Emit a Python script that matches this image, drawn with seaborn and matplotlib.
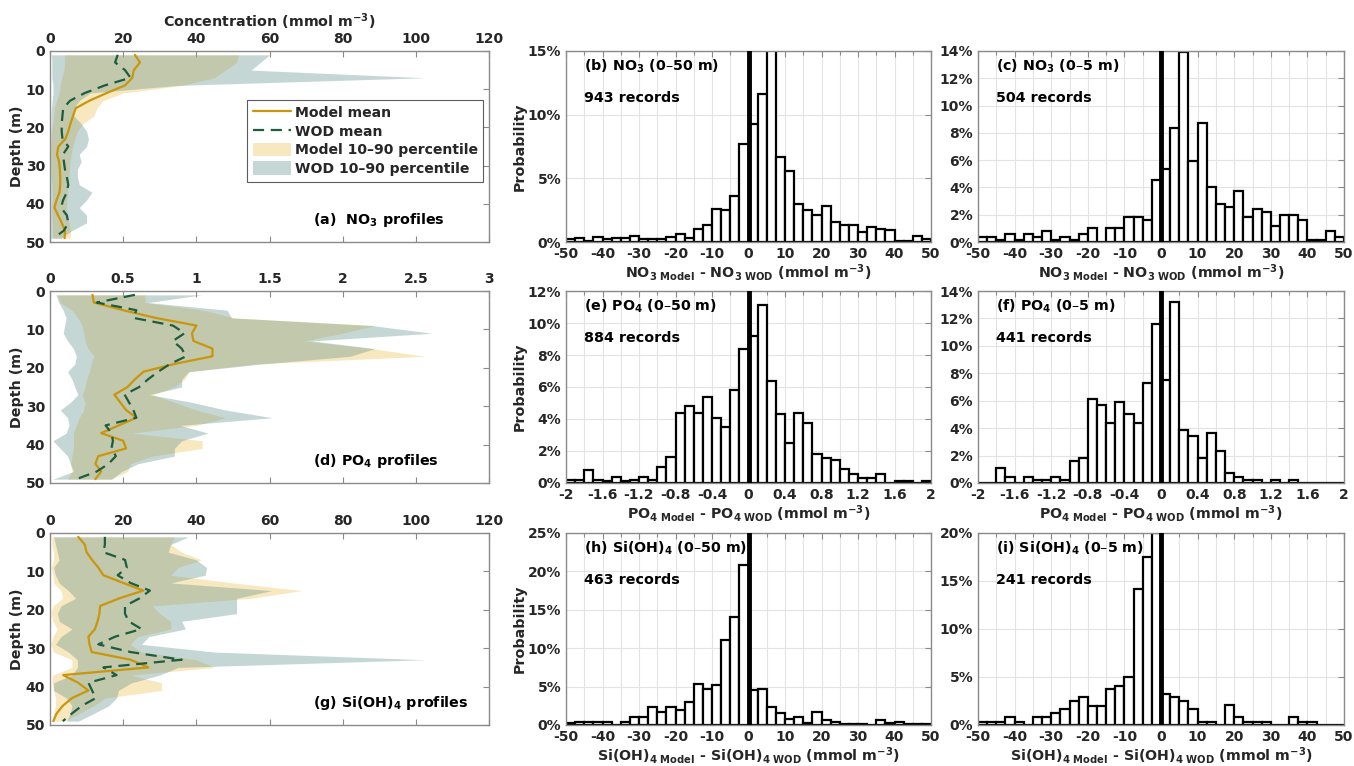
import numpy as np
import pandas as pd
import matplotlib
matplotlib.use("Agg")
import matplotlib.pyplot as plt
from matplotlib.ticker import MultipleLocator, FuncFormatter
from matplotlib.lines import Line2D
from matplotlib.patches import Patch
import seaborn as sns

sns.set_theme(style="white")
plt.rcParams['font.family'] = ['DejaVu Sans']
plt.rcParams['font.weight'] = 'bold'
plt.rcParams['axes.labelweight'] = 'bold'
plt.rcParams['mathtext.fontset'] = 'dejavusans'
plt.rcParams['mathtext.default'] = 'bf'

# ---- profile data (depth in m) ----
depth = [1, 3, 5, 7, 9, 11, 13, 15, 17, 19, 21, 23, 25, 27, 29, 31, 33, 35, 37, 39, 41, 43, 45, 47, 49]

no3_model_mean = [23.2, 24.6, 22.9, 22.5, 20.5, 15.5, 10.8, 7.0, 6.3, 5.6, 5.0, 4.2, 2.3, 1.9, 2.5, 2.7, 2.8, 2.8, 2.6, 1.8, 1.2, 2.2, 3.2, 4.1, 4.0]
no3_wod_mean = [18.5, 17.8, 20.5, 22.0, 15.0, 9.5, 5.5, 3.6, 3.4, 3.2, 3.2, 3.4, 5.0, 3.6, 3.8, 4.1, 4.6, 5.0, 4.6, 3.6, 3.0, 4.6, 5.0, 3.8, 1.0]
no3_model_p10 = [4.0, 4.0, 3.8, 3.2, 2.8, 2.5, 1.8, 1.2, 1.0, 0.8, 0.5, 0.3, 0.2, 0.2, 0.2, 0.2, 0.3, 0.5, 0.6, 0.6, 0.5, 0.5, 0.6, 0.7, 0.8]
no3_model_p90 = [51.5, 51.0, 48.0, 45.0, 36.0, 20.0, 14.5, 12.8, 12.0, 9.0, 7.5, 6.8, 6.2, 5.8, 5.5, 5.3, 5.2, 5.0, 4.8, 4.6, 4.5, 4.8, 5.2, 5.6, 5.5]
no3_wod_p10 = [0.4, 0.5, 0.5, 0.5, 0.8, 0.8, 0.6, 0.4, 0.3, 0.3, 0.2, 0.2, 0.2, 0.2, 0.2, 0.2, 0.2, 0.2, 0.2, 0.2, 0.2, 0.2, 0.2, 0.2, 0.2]
no3_wod_p90 = [60.0, 57.5, 55.0, 102.5, 35.0, 11.0, 8.0, 6.5, 6.5, 8.5, 10.0, 10.5, 10.0, 8.0, 8.5, 7.5, 7.5, 8.0, 11.5, 10.0, 8.0, 10.0, 10.0, 6.0, 3.0]

po4_model_mean = [0.29, 0.30, 0.50, 0.72, 1.00, 0.97, 0.98, 1.11, 1.11, 0.85, 0.64, 0.58, 0.53, 0.44, 0.48, 0.52, 0.59, 0.47, 0.35, 0.50, 0.52, 0.33, 0.31, 0.35, 0.31]
po4_wod_mean = [0.58, 0.32, 0.59, 0.57, 0.84, 0.92, 0.84, 0.90, 0.93, 0.82, 0.74, 0.67, 0.61, 0.51, 0.54, 0.57, 0.59, 0.38, 0.42, 0.43, 0.42, 0.45, 0.40, 0.32, 0.18]
po4_model_p10 = [0.05, 0.07, 0.15, 0.19, 0.22, 0.23, 0.24, 0.26, 0.30, 0.28, 0.27, 0.25, 0.24, 0.22, 0.24, 0.23, 0.20, 0.18, 0.16, 0.16, 0.16, 0.15, 0.14, 0.15, 0.12]
po4_model_p90 = [0.65, 0.65, 1.05, 1.26, 2.22, 2.00, 1.74, 2.20, 2.56, 1.40, 0.95, 0.92, 0.85, 0.70, 0.85, 1.00, 1.20, 1.00, 0.56, 1.04, 1.04, 0.70, 0.55, 0.53, 0.42]
po4_wod_p10 = [0.04, 0.06, 0.09, 0.11, 0.10, 0.09, 0.12, 0.16, 0.18, 0.17, 0.12, 0.15, 0.17, 0.19, 0.14, 0.07, 0.12, 0.13, 0.11, 0.02, 0.07, 0.12, 0.14, 0.16, 0.02]
po4_wod_p90 = [1.04, 0.67, 1.21, 1.24, 2.20, 2.61, 1.79, 2.22, 2.05, 1.45, 0.95, 0.90, 0.90, 0.68, 0.97, 1.20, 1.52, 0.89, 1.08, 0.90, 0.85, 0.85, 0.60, 0.49, 0.42]

si_model_mean = [7.7, 9.5, 10.0, 11.5, 13.2, 14.6, 20.0, 25.5, 19.0, 13.7, 13.5, 13.0, 12.3, 10.5, 10.8, 11.4, 22.0, 26.9, 3.6, 7.7, 10.5, 6.0, 3.5, 1.8, 0.9]
si_wod_mean = [15.0, 15.0, 14.6, 20.5, 21.0, 18.5, 22.0, 27.3, 24.5, 20.5, 20.5, 21.5, 25.0, 17.8, 13.2, 22.0, 36.0, 14.6, 18.2, 10.5, 11.5, 12.5, 8.7, 6.0, 3.5]
si_model_p10 = [0.5, 0.5, 1.0, 1.0, 0.3, 0.8, 1.0, 3.0, 3.5, 0.8, 0.3, 0.8, 2.0, 0.8, 0.3, 1.0, 6.0, 6.0, 0.8, 0.5, 1.0, 1.5, 1.5, 1.0, 0.5]
si_model_p90 = [34.0, 33.0, 36.0, 41.5, 35.0, 33.0, 50.0, 68.8, 55.0, 28.0, 30.0, 33.0, 33.0, 24.0, 22.0, 25.0, 40.0, 45.0, 22.0, 30.5, 30.5, 15.0, 12.0, 8.0, 4.0]
si_wod_p10 = [1.0, 1.5, 2.0, 2.5, 1.0, 1.5, 2.5, 5.0, 7.0, 3.0, 2.0, 2.5, 6.0, 3.0, 1.5, 5.0, 7.5, 7.5, 6.0, 1.0, 1.0, 4.5, 6.0, 5.5, 4.5]
si_wod_p90 = [37.8, 33.0, 32.3, 40.0, 42.8, 42.4, 33.0, 60.6, 51.0, 51.0, 51.0, 36.0, 37.0, 27.0, 25.0, 45.0, 102.5, 35.0, 30.0, 22.3, 18.7, 18.2, 16.0, 12.0, 7.7]

# ---- histogram data: probability (%) per bin, 40 bins over -50..50 (or -2..2) ----
no3_050 = [0.2, 0.3, 0.1, 0.4, 0.2, 0.3, 0.3, 0.5, 0.2, 0.2, 0.2, 0.4, 0.6, 0.3, 1.05, 1.35, 2.6, 2.5, 3.65, 7.7,
           9.3, 11.6, 15.1, 6.7, 5.6, 3.0, 2.5, 2.1, 2.8, 1.55, 1.35, 1.35, 0.8, 1.2, 1.05, 0.95, 0.1, 0.1, 0.5, 0.2]
no3_05 = [0.35, 0.35, 0.15, 0.55, 0.15, 0.55, 0.35, 0.8, 0.15, 0.35, 0.15, 0.55, 1.0, 0.0, 1.0, 1.0, 1.8, 1.8, 1.6, 4.55,
          5.35, 8.35, 13.95, 5.95, 8.75, 4.0, 2.8, 2.6, 3.75, 1.8, 2.4, 2.2, 1.2, 2.0, 2.0, 1.6, 0.15, 0.15, 0.8, 0.35]
po4_050 = [0.2, 0.2, 0.8, 0.2, 0.1, 0.4, 0.1, 0.2, 0.4, 0.2, 1.0, 1.6, 4.4, 4.8, 4.4, 5.35, 4.05, 3.5, 5.8, 8.4,
           9.2, 11.1, 6.35, 4.3, 2.5, 4.4, 3.75, 1.8, 1.55, 1.45, 0.9, 0.55, 0.3, 0.3, 0.55, 0.0, 0.1, 0.1, 0.0, 0.1]
po4_05 = [0.0, 0.0, 1.1, 0.45, 0.0, 0.45, 0.25, 0.25, 0.45, 0.25, 1.6, 1.8, 6.15, 5.7, 4.35, 5.9, 5.0, 4.35, 7.3, 11.6,
          7.5, 13.2, 3.9, 3.4, 1.8, 3.65, 2.3, 0.7, 0.45, 0.25, 0.25, 0.0, 0.25, 0.0, 0.25, 0.0, 0.0, 0.0, 0.0, 0.0]
si_050 = [0.2, 0.35, 0.35, 0.35, 0.35, 0.0, 0.35, 1.05, 1.05, 2.35, 1.65, 2.35, 1.9, 3.0, 5.35, 4.7, 5.15, 11.05, 14.1, 20.8,
          4.5, 4.7, 2.35, 1.5, 0.8, 1.05, 0.2, 1.65, 0.6, 0.35, 0.15, 0.15, 0.15, 0.0, 0.6, 0.2, 0.35, 0.15, 0.15, 0.15]
si_05 = [0.35, 0.35, 0.35, 0.8, 0.35, 0.0, 0.8, 0.8, 1.2, 1.65, 2.5, 2.9, 2.0, 2.0, 3.7, 4.1, 5.0, 14.15, 17.5, 20.0,
         3.25, 2.9, 2.5, 1.65, 0.35, 0.35, 0.0, 2.05, 0.8, 0.35, 0.35, 0.35, 0.0, 0.0, 0.8, 0.35, 0.35, 0.0, 0.0, 0.0]

MODEL_LINE = "#C9960C"
WOD_LINE = "#1D5C3F"
MODEL_FILL = "#EFC660"
WOD_FILL = "#5B8F88"
SPINE = "#8a8a8a"
TXT = "#262626"
DASH = "\u2013"
LAB_FS = 10.3

W, H = 1354, 766
fig = plt.figure(figsize=(W / 100, H / 100), dpi=100)

def px_axes(x0, y0, x1, y1):
    return fig.add_axes([x0 / W, 1 - y1 / H, (x1 - x0) / W, (y1 - y0) / H])

def style_box(ax):
    for s in ax.spines.values():
        s.set_color(SPINE)
        s.set_linewidth(1.0)
    ax.tick_params(direction='in', length=4, width=0.8, color=SPINE, labelsize=10,
                   labelcolor=TXT, top=True, right=True, which='both')
    ax.tick_params(which='minor', length=3)
    for lab in ax.get_xticklabels() + ax.get_yticklabels():
        lab.set_fontweight('bold')

rows = [(51, 242), (291, 483), (533, 725)]

def profile(ax, mm, wm, mlo, mhi, wlo, whi, xmax, xstep, label):
    ax.fill_betweenx(depth, mlo, mhi, color=MODEL_FILL, alpha=0.4, lw=0)
    ax.fill_betweenx(depth, wlo, whi, color=WOD_FILL, alpha=0.35, lw=0)
    d = pd.DataFrame({"depth": depth, "model": mm, "wod": wm})
    sns.lineplot(data=d, x="model", y="depth", orient="y", sort=False, ax=ax,
                 color=MODEL_LINE, lw=1.6)
    sns.lineplot(data=d, x="wod", y="depth", orient="y", sort=False, ax=ax,
                 color=WOD_LINE, lw=1.6, linestyle=(0, (5, 3)))
    ax.set_xlim(0, xmax)
    ax.set_ylim(50, 0)
    ax.xaxis.tick_top()
    ax.xaxis.set_label_position('top')
    ax.xaxis.set_major_locator(MultipleLocator(xstep))
    ax.yaxis.set_major_locator(MultipleLocator(10))
    ax.xaxis.set_major_formatter(FuncFormatter(lambda v, p: f"{v:g}"))
    ax.set_xlabel("")
    ax.set_ylabel("Depth (m)", fontsize=10.3, fontweight='bold', color=TXT, labelpad=1)
    style_box(ax)
    ax.tick_params(bottom=True, top=True, labelbottom=False, labeltop=True)
    ax.text(0.60, 0.115, label, transform=ax.transAxes, fontsize=LAB_FS,
            fontweight='bold', color='black', ha='left', va='center')

ax_a = px_axes(50, rows[0][0], 489, rows[0][1])
profile(ax_a, no3_model_mean, no3_wod_mean, no3_model_p10, no3_model_p90,
        no3_wod_p10, no3_wod_p90, 120, 20, r"(a)  NO$_3$ profiles")
ax_a.set_xlabel(r"Concentration (mmol m$^{-3}$)", fontsize=10.3, fontweight='bold', color=TXT, labelpad=4)
handles = [Line2D([], [], color=MODEL_LINE, lw=1.6),
           Line2D([], [], color=WOD_LINE, lw=1.6, linestyle=(0, (5, 3))),
           Patch(facecolor=MODEL_FILL, alpha=0.4, edgecolor='none'),
           Patch(facecolor=WOD_FILL, alpha=0.35, edgecolor='none')]
leg = ax_a.legend(handles, ["Model mean", "WOD mean", "Model 10" + DASH + "90 percentile", "WOD 10" + DASH + "90 percentile"],
                  loc='upper left', bbox_to_anchor=(0.449, 0.745), fontsize=10.1, frameon=True,
                  fancybox=False, edgecolor='#333333', handlelength=2.7, handleheight=1.1,
                  labelspacing=0.3, borderpad=0.4, handletextpad=0.3, borderaxespad=0)
leg.get_frame().set_linewidth(0.8)
for t in leg.get_texts():
    t.set_fontweight('bold')

ax_d = px_axes(50, rows[1][0], 489, rows[1][1])
profile(ax_d, po4_model_mean, po4_wod_mean, po4_model_p10, po4_model_p90,
        po4_wod_p10, po4_wod_p90, 3, 0.5, r"(d) PO$_4$ profiles")

ax_g = px_axes(50, rows[2][0], 489, rows[2][1])
profile(ax_g, si_model_mean, si_wod_mean, si_model_p10, si_model_p90,
        si_wod_p10, si_wod_p90, 120, 20, r"(g) Si(OH)$_4$ profiles")

# ---- histograms ----
def hist(ax, probs, lim, ymax, ystep, title, nrec, xlab, ylab):
    nb = len(probs)
    edges = np.linspace(-lim, lim, nb + 1)
    hd = pd.DataFrame({"diff": (edges[:-1] + edges[1:]) / 2, "prob": probs})
    ax.set_axisbelow(True)
    ax.grid(True, which='both', color='#e3e3e3', lw=0.8)
    sns.histplot(data=hd, x="diff", weights="prob", bins=nb, binrange=(-lim, lim), ax=ax,
                 stat='count', color='white', edgecolor='black', linewidth=1.6, alpha=1)
    ax.axvline(0, color='black', lw=3.5, zorder=5)
    ax.set_xlim(-lim, lim)
    ax.set_ylim(0, ymax)
    if lim > 10:
        ax.xaxis.set_major_locator(MultipleLocator(10))
        ax.xaxis.set_minor_locator(MultipleLocator(5))
    else:
        ax.xaxis.set_major_locator(MultipleLocator(0.4))
        ax.xaxis.set_minor_locator(MultipleLocator(0.2))
    ax.xaxis.set_major_formatter(FuncFormatter(lambda v, p: f"{round(v, 1) + 0:g}"))
    ax.yaxis.set_major_locator(MultipleLocator(ystep))
    ax.yaxis.set_major_formatter(FuncFormatter(lambda v, p: f"{v:g}%"))
    ax.set_xlabel(xlab, fontsize=10.3, fontweight='bold', color=TXT, labelpad=1)
    ax.set_ylabel(ylab, fontsize=10.3, fontweight='bold', color=TXT, labelpad=1)
    style_box(ax)
    ax.text(0.05, 0.92, title, transform=ax.transAxes, fontsize=LAB_FS, fontweight='bold',
            color='black', ha='left', va='center', zorder=6)
    ax.text(0.05, 0.755, nrec, transform=ax.transAxes, fontsize=LAB_FS, fontweight='bold',
            color='black', ha='left', va='center', zorder=6)

xl_no3 = r"NO$_{3\ Model}$ - NO$_{3\ WOD}$ (mmol m$^{-3}$)"
xl_po4 = r"PO$_{4\ Model}$ - PO$_{4\ WOD}$ (mmol m$^{-3}$)"
xl_si = r"Si(OH)$_{4\ Model}$ - Si(OH)$_{4\ WOD}$ (mmol m$^{-3}$)"

cols = [(566, 931), (978, 1344)]
ax_b = px_axes(cols[0][0], rows[0][0], cols[0][1], rows[0][1])
hist(ax_b, no3_050, 50, 15, 5, r"(b) NO$_3$ (0" + DASH + "50 m)", "943 records", xl_no3, "Probability")
ax_c = px_axes(cols[1][0], rows[0][0], cols[1][1], rows[0][1])
hist(ax_c, no3_05, 50, 14, 2, r"(c) NO$_3$ (0" + DASH + "5 m)", "504 records", xl_no3, "")
ax_e = px_axes(cols[0][0], rows[1][0], cols[0][1], rows[1][1])
hist(ax_e, po4_050, 2, 12, 2, r"(e) PO$_4$ (0" + DASH + "50 m)", "884 records", xl_po4, "Probability")
ax_f = px_axes(cols[1][0], rows[1][0], cols[1][1], rows[1][1])
hist(ax_f, po4_05, 2, 14, 2, r"(f) PO$_4$ (0" + DASH + "5 m)", "441 records", xl_po4, "")
ax_h = px_axes(cols[0][0], rows[2][0], cols[0][1], rows[2][1])
hist(ax_h, si_050, 50, 25, 5, r"(h) Si(OH)$_4$ (0" + DASH + "50 m)", "463 records", xl_si, "Probability")
ax_i = px_axes(cols[1][0], rows[2][0], cols[1][1], rows[2][1])
hist(ax_i, si_05, 50, 20, 5, r"(i) Si(OH)$_4$ (0" + DASH + "5 m)", "241 records", xl_si, "")

fig.savefig("out.png", dpi=100)
